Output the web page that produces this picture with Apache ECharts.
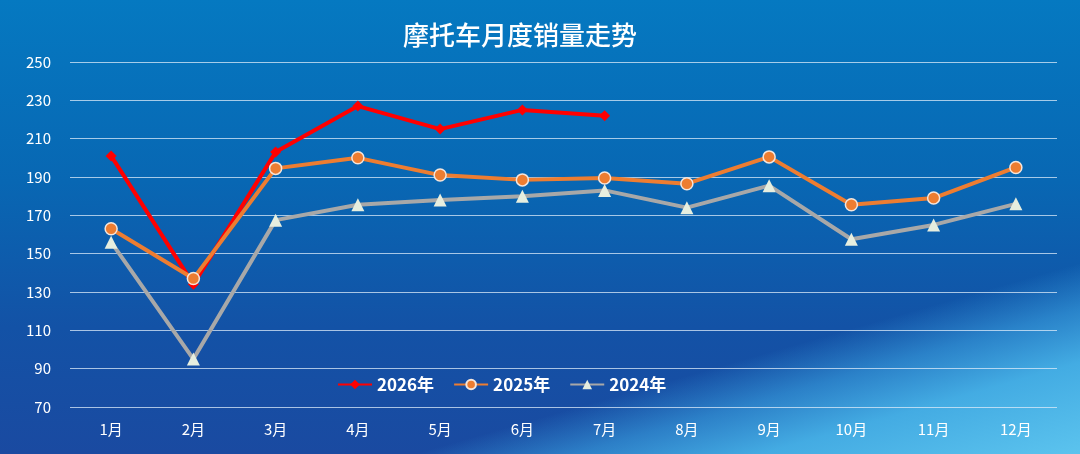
<!DOCTYPE html>
<html lang="zh" style="height: 100%">
<head>
  <meta charset="utf-8">
</head>
<body style="height: 100%; margin: 0">
<div id="container" style="height: 100%; background:
  linear-gradient(164deg, rgba(60,170,230,0) 75%, rgba(60,170,230,0.55) 81%, rgba(75,188,238,0.85) 88%, rgba(95,202,242,0.95) 100%),
  linear-gradient(180deg, #0579c1 0%, #0867b3 40%, #1352a6 72%, #1a4aa1 100%);"></div>
<script type="text/javascript" src="https://cdn.jsdelivr.net/npm/echarts@6/dist/echarts.min.js"></script>
<script type="text/javascript">
  // 数据
  var months = ['1月', '2月', '3月', '4月', '5月', '6月', '7月', '8月', '9月', '10月', '11月', '12月'];
  var sales2026 = [201, 134, 203, 227, 215, 225, 222];
  var sales2025 = [163, 137, 194.5, 200, 191, 188.5, 189.5, 186.5, 200.5, 175.5, 179, 195];
  var sales2024 = [156, 95, 167.5, 175.5, 178, 180, 183, 174, 185.5, 157.5, 165, 176];

  var dom = document.getElementById('container');
  var myChart = echarts.init(dom, null, { renderer: 'canvas' });

  var option = {
    backgroundColor: 'transparent',
    title: {
      text: '摩托车月度销量走势',
      left: 398,
      top: 17,
      textStyle: {
        color: '#ffffff',
        fontSize: 26,
        fontWeight: 500,
        fontFamily: 'Noto Sans CJK SC'
      }
    },
    legend: {
      top: 371,
      left: 332,
      itemWidth: 34,
      itemHeight: 12,
      itemGap: 19,
      textStyle: {
        color: '#ffffff',
        fontSize: 17,
        fontWeight: 'bold',
        fontFamily: 'Noto Sans CJK SC'
      },
      data: ['2026年', '2025年', '2024年']
    },
    grid: {
      left: 70,
      right: 23,
      top: 62,
      bottom: 47,
      containLabel: false
    },
    xAxis: {
      type: 'category',
      data: months,
      boundaryGap: true,
      axisLine: { show: false },
      axisTick: { show: false },
      axisLabel: {
        color: '#ffffff',
        fontSize: 15,
        margin: 15,
        fontFamily: 'Noto Sans CJK SC'
      }
    },
    yAxis: {
      type: 'value',
      min: 70,
      max: 250,
      interval: 20,
      axisLine: { show: false },
      axisTick: { show: false },
      axisLabel: {
        color: '#ffffff',
        fontSize: 15,
        margin: 19,
        fontFamily: 'Noto Sans CJK SC'
      },
      splitLine: {
        lineStyle: { color: 'rgba(220,235,250,0.75)', width: 1.2 }
      }
    },
    series: [
      {
        name: '2026年',
        type: 'line',
        data: sales2026,
        symbol: 'diamond',
        symbolSize: 11,
        z: 3,
        lineStyle: { color: '#ff0000', width: 4 },
        itemStyle: { color: '#ff0000' }
      },
      {
        name: '2025年',
        type: 'line',
        data: sales2025,
        symbol: 'circle',
        symbolSize: 12,
        z: 4,
        lineStyle: { color: '#ed7d31', width: 4 },
        itemStyle: { color: '#ed7d31', borderColor: '#f5e6dc', borderWidth: 1.5 }
      },
      {
        name: '2024年',
        type: 'line',
        data: sales2024,
        symbol: 'triangle',
        symbolSize: 13,
        z: 2,
        lineStyle: { color: '#a8a8a8', width: 4 },
        itemStyle: { color: '#e6eedf' }
      }
    ]
  };

  myChart.setOption(option);
  window.addEventListener('resize', myChart.resize);
</script>
</body>
</html>
